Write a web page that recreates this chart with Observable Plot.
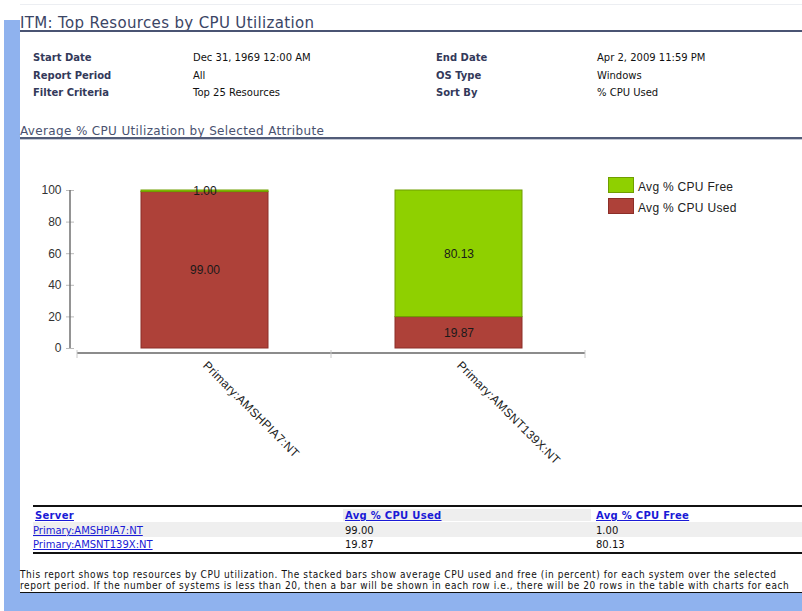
<!DOCTYPE html>
<html>
<head>
<meta charset="utf-8">
<script src="https://cdn.jsdelivr.net/npm/d3@7"></script>
<script src="https://cdn.jsdelivr.net/npm/@observablehq/plot@0.6"></script>
<style>
  html, body { margin: 0; padding: 0; background: #fff; }
  #page { position: relative; width: 802px; height: 611px; overflow: hidden; background: #fff; font-family: "DejaVu Sans", Verdana, sans-serif; }
  .abs { position: absolute; white-space: nowrap; }
  .lbl { font-weight: bold; font-size: 10px; color: #33395a; line-height: 12px; }
  .val { font-size: 10px; color: #111; line-height: 12px; }
  a { color: #1a1ad6; }
  .th { font-weight: bold; font-size: 10px; line-height: 12px; letter-spacing: 0.3px; }
  .td { font-size: 10px; line-height: 12px; color: #111; }
  .legend-item { position: absolute; font-family: "Liberation Sans", Arial, sans-serif; font-size: 12px; color: #222; letter-spacing: 0.3px; white-space: nowrap; }
  .sw { position: absolute; width: 24px; height: 14px; }
  svg [aria-label="x-axis tick label"] text { letter-spacing: 0.3px; }
</style>
</head>
<body>
<div id="page"></div>
<script>
// ---- data ----
const servers = ["Primary:AMSHPIA7:NT", "Primary:AMSNT139X:NT"];
const cpuUsed = [99.00, 19.87];
const cpuFree = [1.00, 80.13];
const seriesNames = ["Avg % CPU Used", "Avg % CPU Free"];
const seriesColors = ["#AE4139", "#8FD000"];
const seriesStrokes = ["#8C2E28", "#6F9E00"];
const legendOrder = ["Avg % CPU Free", "Avg % CPU Used"];
const yTicks = [0, 20, 40, 60, 80, 100];

const titleText = "ITM: Top Resources by CPU Utilization";
const subtitleText = "Average % CPU Utilization by Selected Attribute";
const infoLeftLabels = ["Start Date", "Report Period", "Filter Criteria"];
const infoLeftValues = ["Dec 31, 1969 12:00 AM", "All", "Top 25 Resources"];
const infoRightLabels = ["End Date", "OS Type", "Sort By"];
const infoRightValues = ["Apr 2, 2009 11:59 PM", "Windows", "% CPU Used"];
const tableHeaders = ["Server", "Avg % CPU Used", "Avg % CPU Free"];
const footerLines = [
  "This report shows top resources by CPU utilization. The stacked bars show average CPU used and free (in percent) for each system over the selected",
  "report period. If the number of systems is less than 20, then a bar will be shown in each row i.e., there will be 20 rows in the table with charts for each"
];

// ---- page furniture ----
const page = document.getElementById("page");
function add(html) { page.insertAdjacentHTML("beforeend", html); }

add(`<div class="abs" style="left:4px;top:20px;width:16px;height:591px;background:#8FB2EE"></div>`);
add(`<div class="abs" style="left:4px;top:593px;width:798px;height:18px;background:#8FB2EE"></div>`);
add(`<div class="abs" style="left:20px;top:4px;width:782px;height:1px;background:#eceef2"></div>`);
add(`<div class="abs" style="left:20px;top:13px;font-size:15px;letter-spacing:0.35px;line-height:20px;color:#3b4565">${titleText}</div>`);
add(`<div class="abs" style="left:20px;top:30px;width:782px;height:2px;background:#4a5473"></div>`);

infoLeftLabels.forEach((t, i) => {
  const top = 52 + i * 17.5;
  add(`<div class="abs lbl" style="left:33px;top:${top}px">${t}</div>`);
  add(`<div class="abs val" style="left:193px;top:${top}px">${infoLeftValues[i]}</div>`);
  add(`<div class="abs lbl" style="left:436px;top:${top}px">${infoRightLabels[i]}</div>`);
  add(`<div class="abs val" style="left:597px;top:${top}px">${infoRightValues[i]}</div>`);
});

add(`<div class="abs" style="left:20px;top:123px;font-size:12px;letter-spacing:0.35px;line-height:16px;color:#4a5270">${subtitleText}</div>`);
add(`<div class="abs" style="left:20px;top:137px;width:782px;height:2px;background:#525c78"></div>`);
add(`<div class="abs" style="left:20px;top:139px;width:782px;height:1px;background:#c4c8d4"></div>`);

// ---- chart ----
const rows = [];
servers.forEach((s, i) => {
  rows.push({server: s, series: seriesNames[0], value: cpuUsed[i]});
  rows.push({server: s, series: seriesNames[1], value: cpuFree[i]});
});
const strokeOf = s => seriesStrokes[seriesNames.indexOf(s)];

const chart = Plot.plot({
  width: 580,
  height: 320,
  marginLeft: 50,
  marginRight: 15,
  marginTop: 40,
  marginBottom: 122,
  style: {fontFamily: "'Liberation Sans', Arial, sans-serif", fontSize: "12px", color: "#333", background: "transparent"},
  x: {domain: servers, paddingInner: 0.5, paddingOuter: 0.25, insetLeft: 7, label: null},
  y: {domain: [0, 100], label: null},
  color: {domain: seriesNames, range: seriesColors},
  marks: [
    Plot.barY(rows, Plot.stackY({x: "server", y: "value", fill: "series", stroke: d => strokeOf(d.series), strokeWidth: 1})),
    Plot.text(rows, Plot.stackY({x: "server", y: "value", z: "series", text: d => d.value.toFixed(2), fill: "#1a1a1a", fontSize: 12})),
    Plot.axisY({ticks: yTicks, tickSize: 8, dx: 4, tickPadding: 5, stroke: "#bbb", fill: "#333", fontSize: 12, label: null, tickFormat: d => d}),
    Plot.axisX({tickRotate: 45, tickSize: 0, tickPadding: 15, textAnchor: "start", fontSize: 12, fill: "#222", label: null}),
    (index, scales, values, dim) => {
      const g = d3.create("svg:g");
      const y = scales.y;
      const x0 = dim.marginLeft + 7, x1 = dim.width - dim.marginRight;
      const yb = y(0) + 5;
      g.append("line").attr("x1", dim.marginLeft).attr("x2", dim.marginLeft)
        .attr("y1", y(100)).attr("y2", y(0)).attr("stroke", "#707070").attr("stroke-width", 1.5);
      g.append("line").attr("x1", x0).attr("x2", x1).attr("y1", yb).attr("y2", yb)
        .attr("stroke", "#666").attr("stroke-width", 1.5);
      const n = servers.length;
      for (let i = 0; i <= n; i++) {
        const xx = x0 + i * (x1 - x0) / n;
        g.append("line").attr("x1", xx).attr("x2", xx).attr("y1", yb - 3).attr("y2", yb + 5)
          .attr("stroke", "#c8c8c8").attr("stroke-width", 1);
      }
      return g.node();
    }
  ]
});
chart.style.position = "absolute";
chart.style.left = "20px";
chart.style.top = "150px";
page.appendChild(chart);

// ---- legend ----
legendOrder.forEach((name, i) => {
  const k = seriesNames.indexOf(name);
  const top = 177 + i * 21;
  add(`<div class="sw abs" style="left:608px;top:${top}px;background:${seriesColors[k]};border:1px solid ${seriesStrokes[k]}"></div>`);
  add(`<div class="legend-item" style="left:638px;top:${top + 2}px;line-height:16px">${name}</div>`);
});

// ---- table ----
add(`<div class="abs" style="left:33px;top:505px;width:769px;height:2px;background:#111"></div>`);
add(`<div class="abs" style="left:343px;top:509px;width:248px;height:12px;background:#eeeeee"></div>`);
const colX = [35, 345, 596];
tableHeaders.forEach((h, i) => {
  add(`<div class="abs th" style="left:${colX[i]}px;top:510px"><a href="#">${h}</a></div>`);
});
add(`<div class="abs" style="left:33px;top:522px;width:769px;height:15px;background:#efefef"></div>`);
servers.forEach((s, i) => {
  const top = 525 + i * 13.5;
  add(`<div class="abs td" style="left:33px;top:${top}px"><a href="#">${s}</a></div>`);
  add(`<div class="abs td" style="left:345px;top:${top}px">${cpuUsed[i].toFixed(2)}</div>`);
  add(`<div class="abs td" style="left:596px;top:${top}px">${cpuFree[i].toFixed(2)}</div>`);
});
add(`<div class="abs" style="left:33px;top:552px;width:769px;height:2px;background:#111"></div>`);

// ---- footer ----
footerLines.forEach((t, i) => {
  add(`<div class="abs" style="left:20px;top:${569 + i * 11}px;height:11px;font-family:'DejaVu Sans Condensed','DejaVu Sans',sans-serif;font-stretch:condensed;font-size:10px;letter-spacing:0.58px;line-height:11px;color:#111">${t}</div>`);
});
add(`<div class="abs" style="left:20px;top:592px;width:782px;height:1px;background:#111"></div>`);
</script>
</body>
</html>
